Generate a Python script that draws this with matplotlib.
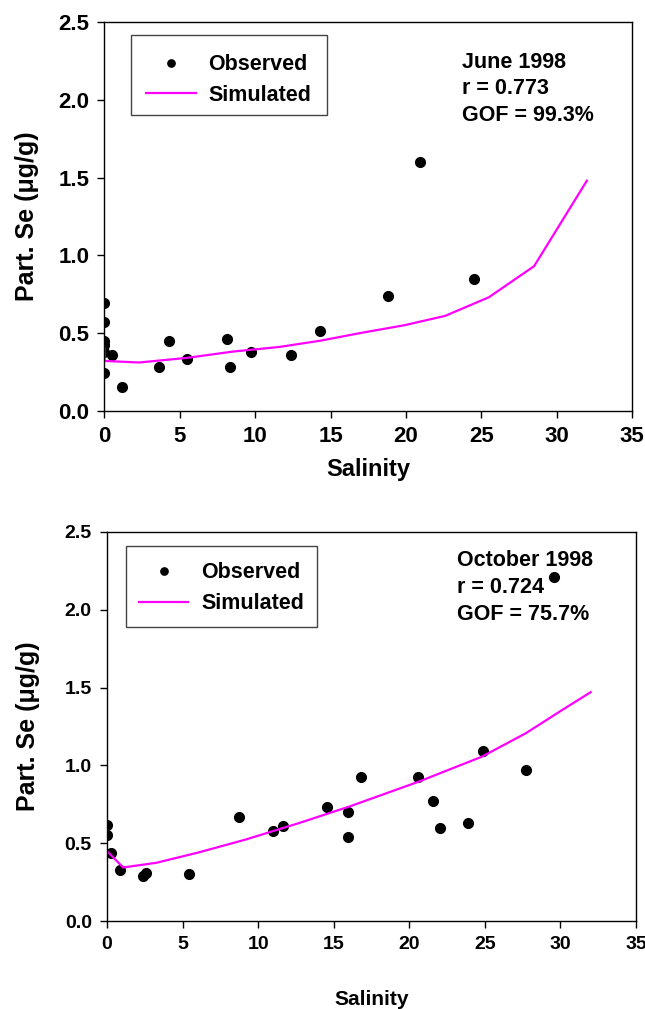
import matplotlib.pyplot as plt
from matplotlib.patches import Rectangle

plt.rcParams['font.family'] = ['Liberation Sans', 'DejaVu Sans']
plt.rcParams['font.weight'] = 'bold'

# June 1998
jun_obs_sal = [0, 0, 0, 0, 0, 0, 0.5, 1.15, 3.6, 4.3, 5.5, 8.1, 8.3, 9.7,
               12.4, 14.3, 18.8, 20.9, 24.5]
jun_obs_se = [0.69, 0.57, 0.45, 0.42, 0.375, 0.24, 0.36, 0.155, 0.28, 0.45,
              0.33, 0.46, 0.28, 0.38, 0.36, 0.51, 0.74, 1.60, 0.85]
jun_sim_sal = [0, 0, 2.3, 5.5, 8.5, 11.6, 14.3, 17.0, 19.9, 22.6, 25.5, 28.5, 32.0]
jun_sim_se = [0.40, 0.32, 0.31, 0.34, 0.38, 0.41, 0.45, 0.50, 0.55, 0.61, 0.73, 0.93, 1.48]

# October 1998
oct_obs_sal = [0, 0, 0.25, 0.84, 2.4, 2.6, 5.4, 8.7, 11.0, 11.65, 14.55, 15.95,
               15.95, 16.8, 20.6, 21.55, 22.05, 23.9, 24.9, 27.7, 29.6]
oct_obs_se = [0.62, 0.555, 0.44, 0.33, 0.29, 0.31, 0.30, 0.67, 0.58, 0.61, 0.73,
              0.70, 0.54, 0.925, 0.925, 0.77, 0.60, 0.63, 1.09, 0.97, 2.21]
oct_sim_sal = [0, 1.06, 3.26, 6.0, 9.2, 12.7, 16.0, 20.6, 24.8, 27.7, 30.3, 32.0]
oct_sim_se = [0.45, 0.345, 0.375, 0.44, 0.525, 0.63, 0.735, 0.895, 1.056, 1.206, 1.367, 1.47]

fig = plt.figure(figsize=(6.45, 10.09), dpi=100)
ax1 = fig.add_axes([0.162, 0.593, 0.818, 0.385])
ax2 = fig.add_axes([0.166, 0.087, 0.820, 0.386])


def panel(ax, obs_x, obs_y, sim_x, sim_y, lines, tick_fs, xlab_pad, ylab_pad,
          box, leg_dy, text_x, text_ys):
    ax.plot(obs_x, obs_y, 'o', color='black', markersize=7, label='Observed')
    ax.plot(sim_x, sim_y, color='#ff00ff', lw=1.6, label='Simulated')
    ax.set_xlim(0, 35)
    ax.set_ylim(0, 2.5)
    ax.set_xticks(range(0, 36, 5))
    ax.set_yticks([0, 0.5, 1.0, 1.5, 2.0, 2.5])
    ax.set_yticklabels(['0.0', '0.5', '1.0', '1.5', '2.0', '2.5'])
    ax.tick_params(direction='out', length=5, width=1, labelsize=tick_fs, pad=6)
    ax.set_xlabel('Salinity', fontsize=tick_fs + 1, fontweight='bold', labelpad=xlab_pad)
    ax.set_ylabel('Part. Se (μg/g)', fontsize=18, fontweight='bold', labelpad=ylab_pad)
    for s in ax.spines.values():
        s.set_linewidth(1)

    # legend box drawn separately, entries centred inside it
    x0, y0, x1, y1 = box
    ax.add_patch(Rectangle((x0, y0), x1 - x0, y1 - y0, transform=ax.transAxes,
                           fill=False, edgecolor='#444444', lw=1, zorder=5))
    ax.legend(loc='center', bbox_to_anchor=((x0 + x1) / 2, (y0 + y1) / 2 - leg_dy),
              borderaxespad=0, fontsize=15.5, frameon=False,
              borderpad=0, handlelength=2.3, handletextpad=0.6,
              labelspacing=0.45, markerscale=0.75)
    for txt, ty in zip(lines, text_ys):
        ax.text(text_x, ty, txt, transform=ax.transAxes, fontsize=15.5,
                fontweight='bold', va='center', ha='left')


panel(ax1, jun_obs_sal, jun_obs_se, jun_sim_sal, jun_sim_se,
      ['June 1998', 'r = 0.773', 'GOF = 99.3%'], 16, 8, 14,
      (0.050, 0.760, 0.421, 0.966), 0.012, 0.677, [0.895, 0.830, 0.761])
panel(ax2, oct_obs_sal, oct_obs_se, oct_sim_sal, oct_sim_se,
      ['October 1998', 'r = 0.724', 'GOF = 75.7%'], 14, 26, 18,
      (0.036, 0.756, 0.397, 0.964), 0.005, 0.662, [0.926, 0.856, 0.787])

fig.savefig('out.png', dpi=100)
